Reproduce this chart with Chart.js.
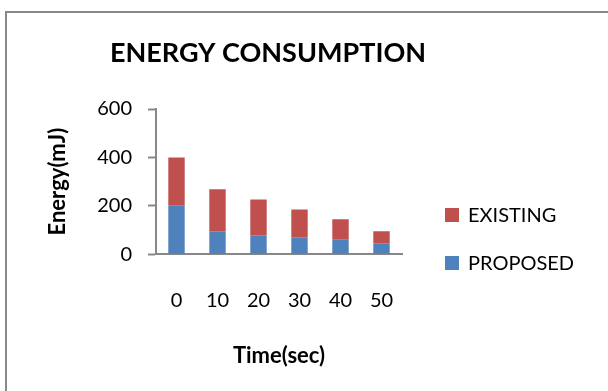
<!DOCTYPE html>
<html>
<head>
<meta charset="utf-8">
<script src="https://cdn.jsdelivr.net/npm/chart.js@4.4.0/dist/chart.umd.min.js"></script>
<style>
    html, body { margin: 0; padding: 0; background: #fff; }
    #wrap { position: relative; width: 608px; height: 391px; overflow: hidden; }
    #frame { position: absolute; left: 5px; top: 11px; width: 700px; height: 500px; border: 2px solid #898989; box-sizing: border-box; }
    #energy_chart { position: absolute; left: 0; top: 0; }
</style>
</head>
<body>
<div id="wrap">
    <div id="frame"></div>
    <canvas id="energy_chart" width="608" height="391"></canvas>
</div>
<script>
// Chart data
const timeLabels = ['0', '10', '20', '30', '40', '50'];
const proposedEnergy = [200, 95, 78, 70, 60, 45];
const existingEnergy = [200, 173, 148, 115, 84, 50];
const energyTicks = [0, 200, 400, 600];

const fontFamily = "Lato, 'Open Sans', sans-serif";

// Title + legend drawn next to the plot, like the office chart
const sideText = {
    id: 'sideText',
    afterDraw(chart) {
        const c = chart.ctx;
        c.save();
        c.fillStyle = '#000';
        c.textAlign = 'center';
        c.textBaseline = 'middle';
        c.font = `bold 27px ${fontFamily}`;
        c.fillText('ENERGY CONSUMPTION', 268, 53);

        // legend, top item = last dataset
        const items = chart.data.datasets.slice().reverse();
        c.textAlign = 'left';
        c.font = `20px ${fontFamily}`;
        items.forEach((ds, i) => {
            const y = 215 + i * 48;
            c.fillStyle = ds.backgroundColor;
            c.fillRect(445, y - 7, 14, 14);
            c.fillStyle = '#000';
            c.fillText(ds.label, 468, y + 1);
        });
        c.restore();
    }
};

const ctx = document.getElementById('energy_chart');
const energyChart = new Chart(ctx, {
    type: 'bar',
    data: {
        labels: timeLabels,
        datasets: [{
            label: 'PROPOSED',
            data: proposedEnergy,
            backgroundColor: '#4F81BD'
        }, {
            label: 'EXISTING',
            data: existingEnergy,
            backgroundColor: '#C0504D'
        }]
    },
    options: {
        responsive: false,
        animation: false,
        layout: {
            padding: { left: 30, top: 109, right: 206, bottom: 21.4 }
        },
        datasets: {
            bar: { categoryPercentage: 0.8, barPercentage: 0.5 }
        },
        plugins: {
            legend: { display: false },
            tooltip: { enabled: false }
        },
        scales: {
            x: {
                stacked: true,
                grid: { display: false },
                border: { color: '#888888', width: 2 },
                ticks: { color: '#000', padding: 26, font: { family: fontFamily, size: 20 } },
                title: {
                    display: true,
                    text: 'Time(sec)',
                    color: '#000',
                    padding: { top: 5, bottom: 0 },
                    font: { family: fontFamily, size: 22, weight: 'bold' }
                }
            },
            y: {
                stacked: true,
                min: 0,
                max: 600,
                afterBuildTicks: axis => { axis.ticks = energyTicks.map(v => ({ value: v })); },
                grid: { drawOnChartArea: false, tickLength: 8, tickColor: '#888888', tickWidth: 2 },
                border: { color: '#888888', width: 2 },
                ticks: { color: '#000', padding: 16, font: { family: fontFamily, size: 20 } },
                title: {
                    display: true,
                    text: 'Energy(mJ)',
                    color: '#000',
                    padding: { top: 14.6, bottom: 10.2 },
                    font: { family: fontFamily, size: 22, weight: 'bold' }
                }
            }
        }
    },
    plugins: [sideText]
});
</script>
</body>
</html>
